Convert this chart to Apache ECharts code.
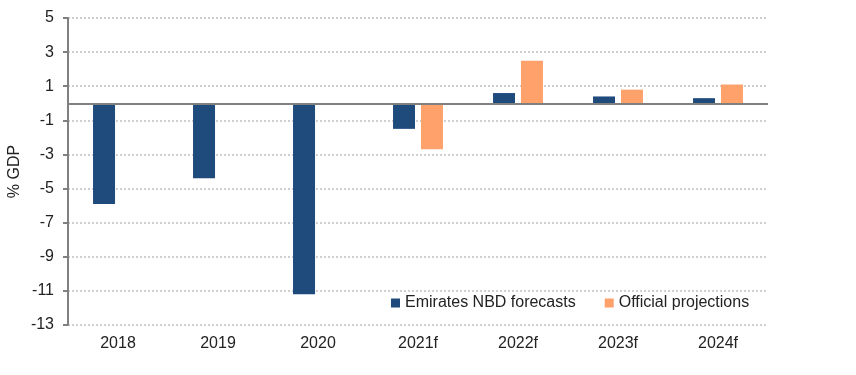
<!DOCTYPE html>
<html>
<head>
<meta charset="utf-8">
<script src="https://cdn.jsdelivr.net/npm/echarts@6/dist/echarts.min.js"></script>
<style>
  html, body { margin: 0; padding: 0; background: #fff; }
  #chart { width: 856px; height: 375px; }
</style>
</head>
<body>
<div id="chart"></div>
<script>
const years = ['2018', '2019', '2020', '2021f', '2022f', '2023f', '2024f'];
const nbdForecasts = [-5.9, -4.4, -11.2, -1.5, 0.6, 0.4, 0.3];
const officialProjections = [null, null, null, -2.7, 2.5, 0.8, 1.1];
const yTicks = { min: -13, max: 5, step: 2 };

const chart = echarts.init(document.getElementById('chart'));

const font = 'Liberation Sans, Arial, sans-serif';

chart.setOption({
  animation: false,
  textStyle: { fontFamily: font },
  grid: { left: 68, right: 88, top: 18, bottom: 50, containLabel: false, outerBoundsMode: 'none' },
  legend: {
    left: 386,
    top: 290,
    itemWidth: 9,
    itemHeight: 9,
    itemGap: 29,
    icon: 'rect',
    textStyle: { fontFamily: font, fontSize: 16, color: '#222' },
    data: ['Emirates NBD forecasts', 'Official projections']
  },
  xAxis: {
    type: 'category',
    data: years,
    axisLine: { show: false, onZero: false },
    axisTick: { show: false },
    axisLabel: { fontFamily: font, fontSize: 16, color: '#222', margin: 11 }
  },
  yAxis: {
    type: 'value',
    min: yTicks.min,
    max: yTicks.max,
    interval: yTicks.step,
    name: '% GDP',
    nameLocation: 'middle',
    nameGap: 45,
    nameMoveOverlap: false,
    nameTextStyle: { fontFamily: font, fontSize: 16, color: '#222' },
    axisLine: { show: true, lineStyle: { color: '#808080', width: 2 } },
    axisTick: { show: true, length: 5, lineStyle: { color: '#808080', width: 2 } },
    axisLabel: { fontFamily: font, fontSize: 16, color: '#222', margin: 14 },
    splitLine: { show: true, lineStyle: { color: '#cfcfcf', width: 2, type: [2, 2] } }
  },
  series: [
    {
      name: 'Emirates NBD forecasts',
      type: 'bar',
      data: nbdForecasts,
      barWidth: 22,
      barGap: '27%',
      itemStyle: { color: '#1f4a7c' },
      markLine: {
        silent: true,
        symbol: 'none',
        label: { show: false },
        lineStyle: { color: '#808080', width: 2, type: 'solid' },
        data: [{ yAxis: 0 }]
      }
    },
    {
      name: 'Official projections',
      type: 'bar',
      data: officialProjections,
      barWidth: 22,
      barGap: '27%',
      itemStyle: { color: '#ffa16b' }
    }
  ]
});
</script>
</body>
</html>
